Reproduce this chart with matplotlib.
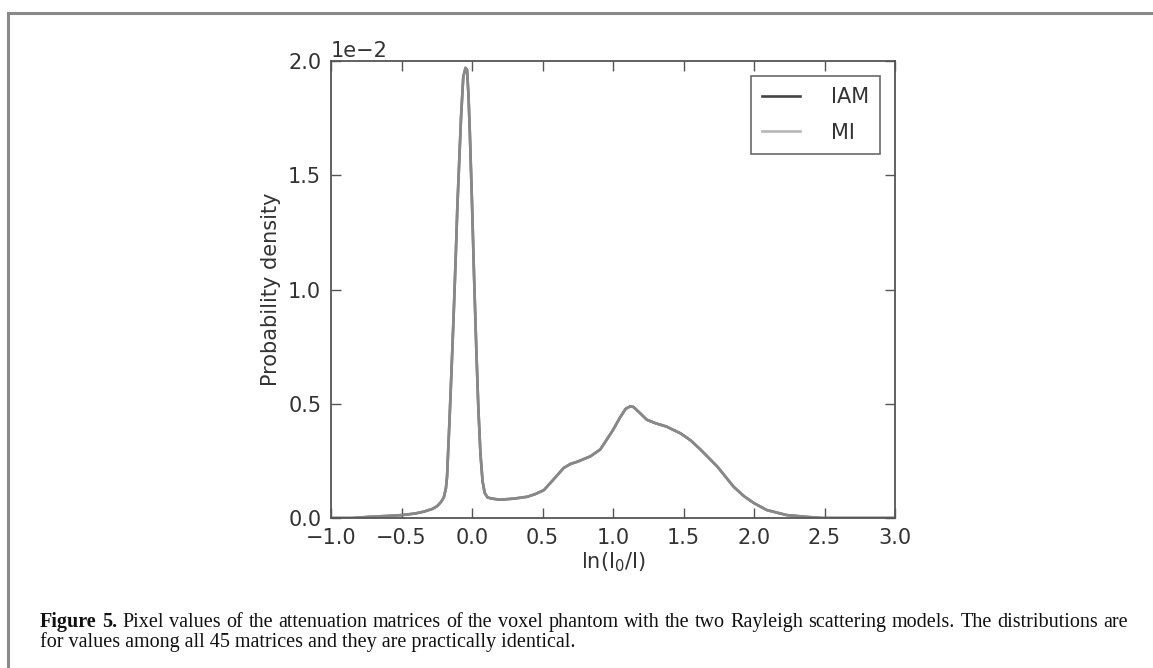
import numpy as np
import matplotlib
matplotlib.use('Agg')
from matplotlib import pyplot as plt
from matplotlib.lines import Line2D

# density curve (y in units of 1e-2)
x_vals = [-1.0, -0.85, -0.73, -0.6, -0.5, -0.4, -0.34, -0.28, -0.247, -0.22, -0.2, -0.185,
          -0.177, -0.16, -0.145, -0.13, -0.115, -0.104, -0.09, -0.078, -0.062, -0.046, -0.035,
          -0.025, -0.015, 0.0, 0.015, 0.03, 0.045, 0.06, 0.075, 0.09, 0.11, 0.14, 0.2, 0.3,
          0.393, 0.45, 0.51, 0.58, 0.65, 0.7, 0.746, 0.84, 0.91, 1.0, 1.05, 1.09, 1.12, 1.145,
          1.19, 1.24, 1.3, 1.38, 1.48, 1.55, 1.62, 1.74, 1.855, 1.93, 2.0, 2.09, 2.23, 2.37,
          2.48, 2.6, 3.0]
density = [0.0, 0.0, 0.005, 0.009, 0.0125, 0.02, 0.028, 0.04, 0.052, 0.07, 0.09, 0.13,
           0.18, 0.42, 0.65, 0.89, 1.15, 1.36, 1.57, 1.75, 1.93, 1.97, 1.96,
           1.85, 1.68, 1.38, 1.05, 0.75, 0.48, 0.28, 0.16, 0.11, 0.09, 0.085, 0.08, 0.085,
           0.093, 0.105, 0.122, 0.17, 0.219, 0.237, 0.246, 0.27, 0.30, 0.385, 0.44, 0.478, 0.488, 0.486,
           0.46, 0.43, 0.415, 0.40, 0.37, 0.34, 0.30, 0.225, 0.137, 0.095, 0.065, 0.035, 0.013, 0.005,
           0.0, 0.0, 0.0]
series_names = ['IAM', 'MI']
series_colors = ['#444444', '#a0a0a0']
series_alpha = [1.0, 0.75]
x_ticks = [-1.0, -0.5, 0.0, 0.5, 1.0, 1.5, 2.0, 2.5, 3.0]
y_ticks = [0.0, 0.5, 1.0, 1.5, 2.0]

caption_bold = 'Figure 5.'
caption_1 = ('Pixel values of the attenuation matrices of the voxel phantom with the two '
             'Rayleigh scattering models. The distributions are')
caption_2 = 'for values among all 45 matrices and they are practically identical.'

W, H = 1153, 668
fig = plt.figure(figsize=(W / 100, H / 100), dpi=100)
ax = fig.add_axes([331 / W, 1 - 518 / H, (895 - 331) / W, (518 - 61) / H])

tc = '#333333'
fs = 15
xv = np.array(x_vals)
yv = np.array(density) * 1e-2
for name, col, a in zip(series_names, series_colors, series_alpha):
    ax.plot(xv, yv, color=col, lw=1.9, alpha=a, label=name)

ax.set_xlim(-1.0, 3.0)
ax.set_ylim(0, 0.02)
ax.set_xticks(x_ticks)
ax.set_yticks(np.array(y_ticks) * 1e-2)
ax.ticklabel_format(style='sci', axis='y', scilimits=(0, 0))
ax.tick_params(direction='in', length=7, width=1, top=True, right=True,
               labelsize=fs, colors='#555555', labelcolor=tc, pad=7)
ax.yaxis.get_offset_text().set_fontsize(fs)
ax.yaxis.get_offset_text().set_color(tc)
for s in ax.spines.values():
    s.set_color('#555555')
    s.set_linewidth(1.3)
ax.set_xlabel(r'ln(I$_0$/I)', fontsize=fs, color=tc, labelpad=2)
ax.set_ylabel('Probability density', fontsize=fs, color=tc, labelpad=5)

leg = ax.legend(loc='upper right', fontsize=fs, frameon=True, fancybox=False,
                handlelength=1.8, handletextpad=1.5, borderpad=0.55, labelspacing=0.75,
                borderaxespad=0.7)
leg.get_frame().set_edgecolor('#444444')
leg.get_frame().set_linewidth(1.2)
for t in leg.get_texts():
    t.set_color(tc)

# page frame
fig.add_artist(Line2D([8 / W, 8 / W], [0, 1 - 13 / H], color='#8a8a8a', lw=2.2))
fig.add_artist(Line2D([8 / W, 1], [1 - 13 / H, 1 - 13 / H], color='#8a8a8a', lw=2.2))

# caption, first line justified between the margins
serif = ['Liberation Serif', 'DejaVu Serif']
cfs = 14.5
x0, x1 = 40, 1128
words = [(w, 'bold') for w in caption_bold.split()] + [(w, 'normal') for w in caption_1.split()]
texts = [fig.text(0, 1 - 627 / H, w, fontsize=cfs, fontweight=fw, family=serif,
                  va='baseline', color='#111111') for w, fw in words]
fig.canvas.draw()
r = fig.canvas.get_renderer()
widths = [t.get_window_extent(r).width for t in texts]
gap = (x1 - x0 - sum(widths)) / (len(texts) - 1)
pos = x0
for t, w in zip(texts, widths):
    t.set_x(pos / W)
    pos += w + gap
fig.text(x0 / W, 1 - 647 / H, caption_2, fontsize=cfs, family=serif,
         va='baseline', color='#111111')

fig.savefig('out.png', dpi=100)
